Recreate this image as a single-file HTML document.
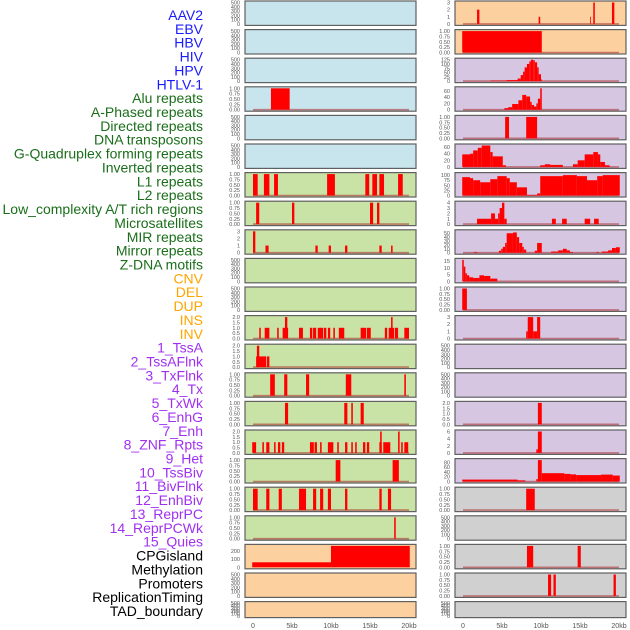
<!DOCTYPE html>
<html><head><meta charset="utf-8"><style>
html,body{margin:0;padding:0;background:#fff;}
svg{display:block;font-family:"Liberation Sans",sans-serif;}
</style></head><body>
<svg id="chart" width="630" height="630" viewBox="0 0 630 630"></svg>
<script>
const trackLabels = ["AAV2","EBV","HBV","HIV","HPV","HTLV-1","Alu repeats","A-Phased repeats","Directed repeats","DNA transposons","G-Quadruplex forming repeats","Inverted repeats","L1 repeats","L2 repeats","Low_complexity A/T rich regions","Microsatellites","MIR repeats","Mirror repeats","Z-DNA motifs","CNV","DEL","DUP","INS","INV","1_TssA","2_TssAFlnk","3_TxFlnk","4_Tx","5_TxWk","6_EnhG","7_Enh","8_ZNF_Rpts","9_Het","10_TssBiv","11_BivFlnk","12_EnhBiv","13_ReprPC","14_ReprPCWk","15_Quies","CPGisland","Methylation","Promoters","ReplicationTiming","TAD_boundary"];
const labelColors = ["#1a1aff","#1a1aff","#1a1aff","#1a1aff","#1a1aff","#1a1aff","#1a6e1a","#1a6e1a","#1a6e1a","#1a6e1a","#1a6e1a","#1a6e1a","#1a6e1a","#1a6e1a","#1a6e1a","#1a6e1a","#1a6e1a","#1a6e1a","#1a6e1a","#ffa500","#ffa500","#ffa500","#ffa500","#ffa500","#a030f0","#a030f0","#a030f0","#a030f0","#a030f0","#a030f0","#a030f0","#a030f0","#a030f0","#a030f0","#a030f0","#a030f0","#a030f0","#a030f0","#a030f0","#000","#000","#000","#000","#000"];
const xTicks = [0,5,10,15,20];
const xTickLabels = ["0","5kb","10kb","15kb","20kb"];
// bars: [startKb, endKb, value]
const L3 = [[2.3,4.7,1]];
const L6 = [[0,0.6,1],[1.4,2.1,1],[2.7,3.2,1],[9.5,10.5,1],[14.4,14.9,1],[15.3,15.9,1],[16.2,16.8,1],[18.6,19.2,1]];
const L7 = [[0.4,0.8,1],[5.0,5.3,1],[15.0,15.4,1],[15.9,16.2,1]];
const L8 = [[0,0.3,3],[1.6,2.0,1],[8.0,8.3,1],[9.7,10.0,1],[11.8,12.1,1],[16.2,16.5,1],[17.7,17.9,1]];
const L11 = [[0.8,1.0,1],[1.5,2.1,1],[3.1,3.3,1],[3.8,4.5,1],[4.1,4.4,2],[5.9,6.4,1],[7.3,7.6,1],[7.7,8.1,1],[8.3,9.0,1],[9.1,9.4,1],[9.6,9.9,1],[10.3,10.5,1],[11.0,11.7,1],[13.8,14.5,1],[14.6,15.1,1],[16.9,17.2,1],[17.4,18.1,1],[17.7,17.9,2],[18.2,18.6,1],[19.4,20.0,1]];
const L12 = [[0.4,1.7,1],[0.5,0.8,2],[1.8,2.1,1]];
const L13 = [[2.2,2.8,1],[4.0,4.4,1],[6.8,7.2,1],[11.9,12.6,1],[19.4,19.6,1]];
const L14 = [[4.1,4.5,1],[11.7,12.1,1],[12.6,12.8,1],[13.8,14.2,1]];
const L15 = [[-0.1,0.4,1],[1.2,1.4,1],[1.7,2.1,1],[2.7,2.9,1],[3.2,3.5,1],[3.7,4.0,1],[7.3,7.8,1],[7.9,8.2,1],[8.6,8.8,1],[9.6,10.3,1],[10.8,11.0,1],[11.8,12.1,1],[12.6,12.8,1],[13.1,13.3,1],[14.1,14.4,1],[14.6,14.9,1],[16.2,16.5,1],[16.3,16.5,2],[16.7,17.6,1],[18.6,18.8,2],[19.0,19.2,1],[19.4,19.9,1]];
const L16 = [[10.6,11.2,1],[17.9,18.7,1]];
const L17 = [[0,0.6,1],[1.7,2.1,1],[3.3,3.7,1],[5.9,6.8,1],[7.7,8.1,1],[8.6,9.0,1],[9.6,10.0,1],[11.8,12.1,1],[16.2,16.5,1],[17.3,17.7,1]];
const L18 = [[18.1,18.3,1]];
const L19 = [[-0.1,10,62],[10,20.1,265]];
const R0 = [[1.8,2.1,2],[9.7,9.9,1],[16.3,16.4,1],[16.7,16.9,3],[19.1,19.4,3]];
const R1 = [[-0.1,10.1,1]];
const R2 = [[3.5,5.6,3],[5.6,7.0,6],[7.0,7.4,15],[7.4,7.7,35],[7.7,7.9,55],[7.9,8.2,80],[8.2,8.5,100],[8.5,8.7,115],[8.7,9.0,125],[9.0,9.2,122],[9.2,9.5,110],[9.5,9.7,80],[9.7,10.0,40],[10.0,10.1,10]];
const R3 = [[5.3,5.8,5],[5.8,6.3,8],[6.3,7.1,18],[7.1,7.6,30],[7.6,8.1,47],[8.1,8.6,42],[8.6,8.8,25],[8.8,9.1,15],[9.1,9.4,10],[9.4,9.6,20],[9.6,9.9,35],[9.9,10.1,68]];
const R4 = [[5.4,5.9,1],[8.1,9.5,1]];
const R5 = [[-0.1,0.9,38],[0.9,1.3,40],[1.3,1.9,50],[1.9,2.4,58],[2.4,3.5,65],[3.5,3.8,45],[3.8,5.1,32],[5.1,5.5,5],[9.9,10.5,5],[10.5,11.2,8],[11.2,12.8,6],[14.1,14.7,8],[14.7,15.6,20],[15.6,16.7,38],[16.7,17.3,45],[17.3,17.6,38],[17.6,18.2,15],[18.2,18.8,5]];
const R6 = [[-0.1,0.9,90],[0.9,1.3,85],[1.3,2.2,75],[2.2,3.5,65],[3.5,4.4,80],[4.4,5.6,95],[5.6,6.0,85],[6.0,6.9,65],[6.9,8.2,40],[8.2,9.5,3],[9.5,9.9,10],[9.9,12.8,95],[12.8,14.6,100],[14.6,15.9,95],[15.9,17.2,75],[17.2,17.9,95],[17.9,20.1,100]];
const R7 = [[1.8,3.6,1],[3.6,4.1,2],[4.1,4.5,1],[4.5,4.7,2],[4.7,5.0,3],[5.0,5.3,4],[5.3,5.6,1],[11.4,11.9,1],[12.7,13.3,1],[15.6,16.3,1],[16.8,17.4,1]];
const R8 = [[1.4,1.8,2],[4.6,4.9,5],[4.9,5.1,10],[5.1,5.4,15],[5.4,5.6,25],[5.6,6.4,50],[6.4,6.9,52],[6.9,7.2,40],[7.2,7.6,25],[7.6,7.8,15],[7.8,8.1,8],[9.2,9.5,5],[9.5,10.1,25],[11.3,12.2,3],[12.2,12.8,6],[12.8,13.3,10],[13.3,13.7,6],[13.7,14.1,2],[17.1,17.4,2],[17.8,18.6,3],[18.6,19.1,6],[19.1,19.6,12],[19.6,20.1,14]];
const R9 = [[-0.1,0.1,16],[0.1,0.3,11],[0.3,0.5,6],[0.5,0.8,4.5],[0.8,1.3,3],[1.3,2.1,2.5],[2.1,2.7,4.5],[2.7,3.5,4],[3.5,4.4,2]];
const R10 = [[-0.1,0.5,1]];
const R11 = [[8.1,8.3,1],[8.3,9.0,3],[9.0,9.5,1],[9.5,9.9,3]];
const R14 = [[9.6,10.1,2]];
const R15 = [[9.4,9.6,1],[9.6,10.1,6]];
const R16 = [[-0.1,7.0,8],[7.0,8.0,5],[9.4,9.6,10],[9.6,10.1,90],[10.1,13.0,35],[13.0,13.8,32],[13.8,14.5,30],[14.5,17.7,27],[17.7,19.2,29],[19.2,20.1,25]];
const R17 = [[8.1,9.2,1]];
const R19 = [[8.2,9.0,1],[14.7,15.1,1]];
const R20 = [[10.9,11.3,1],[11.6,11.9,1],[19.3,19.6,1]];
const leftBars = [null,null,null,L3,null,null,L6,L7,L8,null,null,L11,L12,L13,L14,L15,L16,L17,L18,L19,null,null];
const rightBars = [R0,R1,R2,R3,R4,R5,R6,R7,R8,R9,R10,R11,null,null,R14,R15,R16,R17,null,R19,R20,null];
const leftMax = [500,500,500,1,500,500,1,1,3,500,500,2,2,1,1,2,1,1,1,265,500,500];
const rightMax = [3,1,125,68,1,65,105,4,55,16,1,3,500,500,2,6,90,1,500,1,1,500];
const leftBg = ["#c8e4ec","#c8e4ec","#c8e4ec","#c8e4ec","#c8e4ec","#c8e4ec","#c9e2a6","#c9e2a6","#c9e2a6","#c9e2a6","#c9e2a6","#c9e2a6","#c9e2a6","#c9e2a6","#c9e2a6","#c9e2a6","#c9e2a6","#c9e2a6","#c9e2a6","#fdd09f","#fdd09f","#fdd09f"];
const rightBg = ["#fdd09f","#fdd09f","#d6c6e2","#d6c6e2","#d6c6e2","#d6c6e2","#d6c6e2","#d6c6e2","#d6c6e2","#d6c6e2","#d6c6e2","#d6c6e2","#d6c6e2","#d6c6e2","#d6c6e2","#d6c6e2","#d6c6e2","#d0d0d0","#d0d0d0","#d0d0d0","#d0d0d0","#d0d0d0"];

const NS = "http://www.w3.org/2000/svg";
const svg = document.getElementById("chart");
function mk(tag, attrs, parent){const e=document.createElementNS(NS,tag);for(const k in attrs)e.setAttribute(k,attrs[k]);(parent||svg).appendChild(e);return e;}
function tickStep(m){
  if(m===500) return [0,100,200,300,400,500];
  if(m===1) return [0,0.25,0.5,0.75,1];
  if(m===2) return [0,0.5,1,1.5,2];
  if(m<=6) {const s=m<=4?1:2;const a=[];for(let v=0;v<=m+1e-9;v+=s)a.push(v);return a;}
  let s; if(m<=20) s=5; else if(m<=60) s=10; else if(m<=95) s=20; else if(m<=200) s=25; else s=100;
  const a=[];for(let v=0;v<=m+1e-9;v+=s)a.push(v);return a;
}
function fmt(v,m){if(m===1)return v.toFixed(2);if(m===2)return v.toFixed(1);return String(v);}

trackLabels.forEach((t,i)=>{
  const e=mk("text",{x:203,y:20+13.86*i,"text-anchor":"end","font-size":"14",fill:labelColors[i]});
  e.textContent=t;
  
  
});

function drawPanel(col,r,bars,m,bg){
  const x0 = col===0?245:455, w=171;
  const top = 1+28.6*r, h = r===21?16:24.4, bot=top+h;
  const g=mk("g",{});
  
  
  mk("rect",{x:x0,y:top,width:w,height:h,fill:bg,stroke:"#606060","stroke-width":1.2},g);
  const xs = kb=>x0+8+kb*7.8;
  const ys = v=>bot-1.5-(v/m)*(h-3);
  const ticks=tickStep(m);
  ticks.forEach(v=>{
    const t=mk("text",{x:x0-5,y:ys(v)+2,"text-anchor":"end","font-size":"5.5",fill:"#555"},g);
    t.textContent=fmt(v,m);
    
    
  });
  if(bars){
    if(m!==265) mk("line",{x1:xs(0),x2:xs(20),y1:ys(0),y2:ys(0),stroke:"rgba(170,40,40,0.55)","stroke-width":1.6},g);
    bars.forEach(b=>{
      const rc=mk("rect",{x:xs(b[0]),y:ys(b[2]),width:Math.max(0.8,xs(b[1])-xs(b[0])),height:ys(0)-ys(b[2]),fill:"#ff0000"},g);
      
      
    });
  }
}
for(let r=0;r<22;r++){
  drawPanel(0,r,leftBars[r],leftMax[r],leftBg[r]);
  drawPanel(1,r,rightBars[r],rightMax[r],rightBg[r]);
}
[245,455].forEach(x0=>{
  xTicks.forEach((v,i)=>{
    const t=mk("text",{x:x0+8+v*7.8,y:628,"text-anchor":"middle","font-size":"7",fill:"#555"});
    t.textContent=xTickLabels[i];
    
    
  });
});
</script>
</body></html>
